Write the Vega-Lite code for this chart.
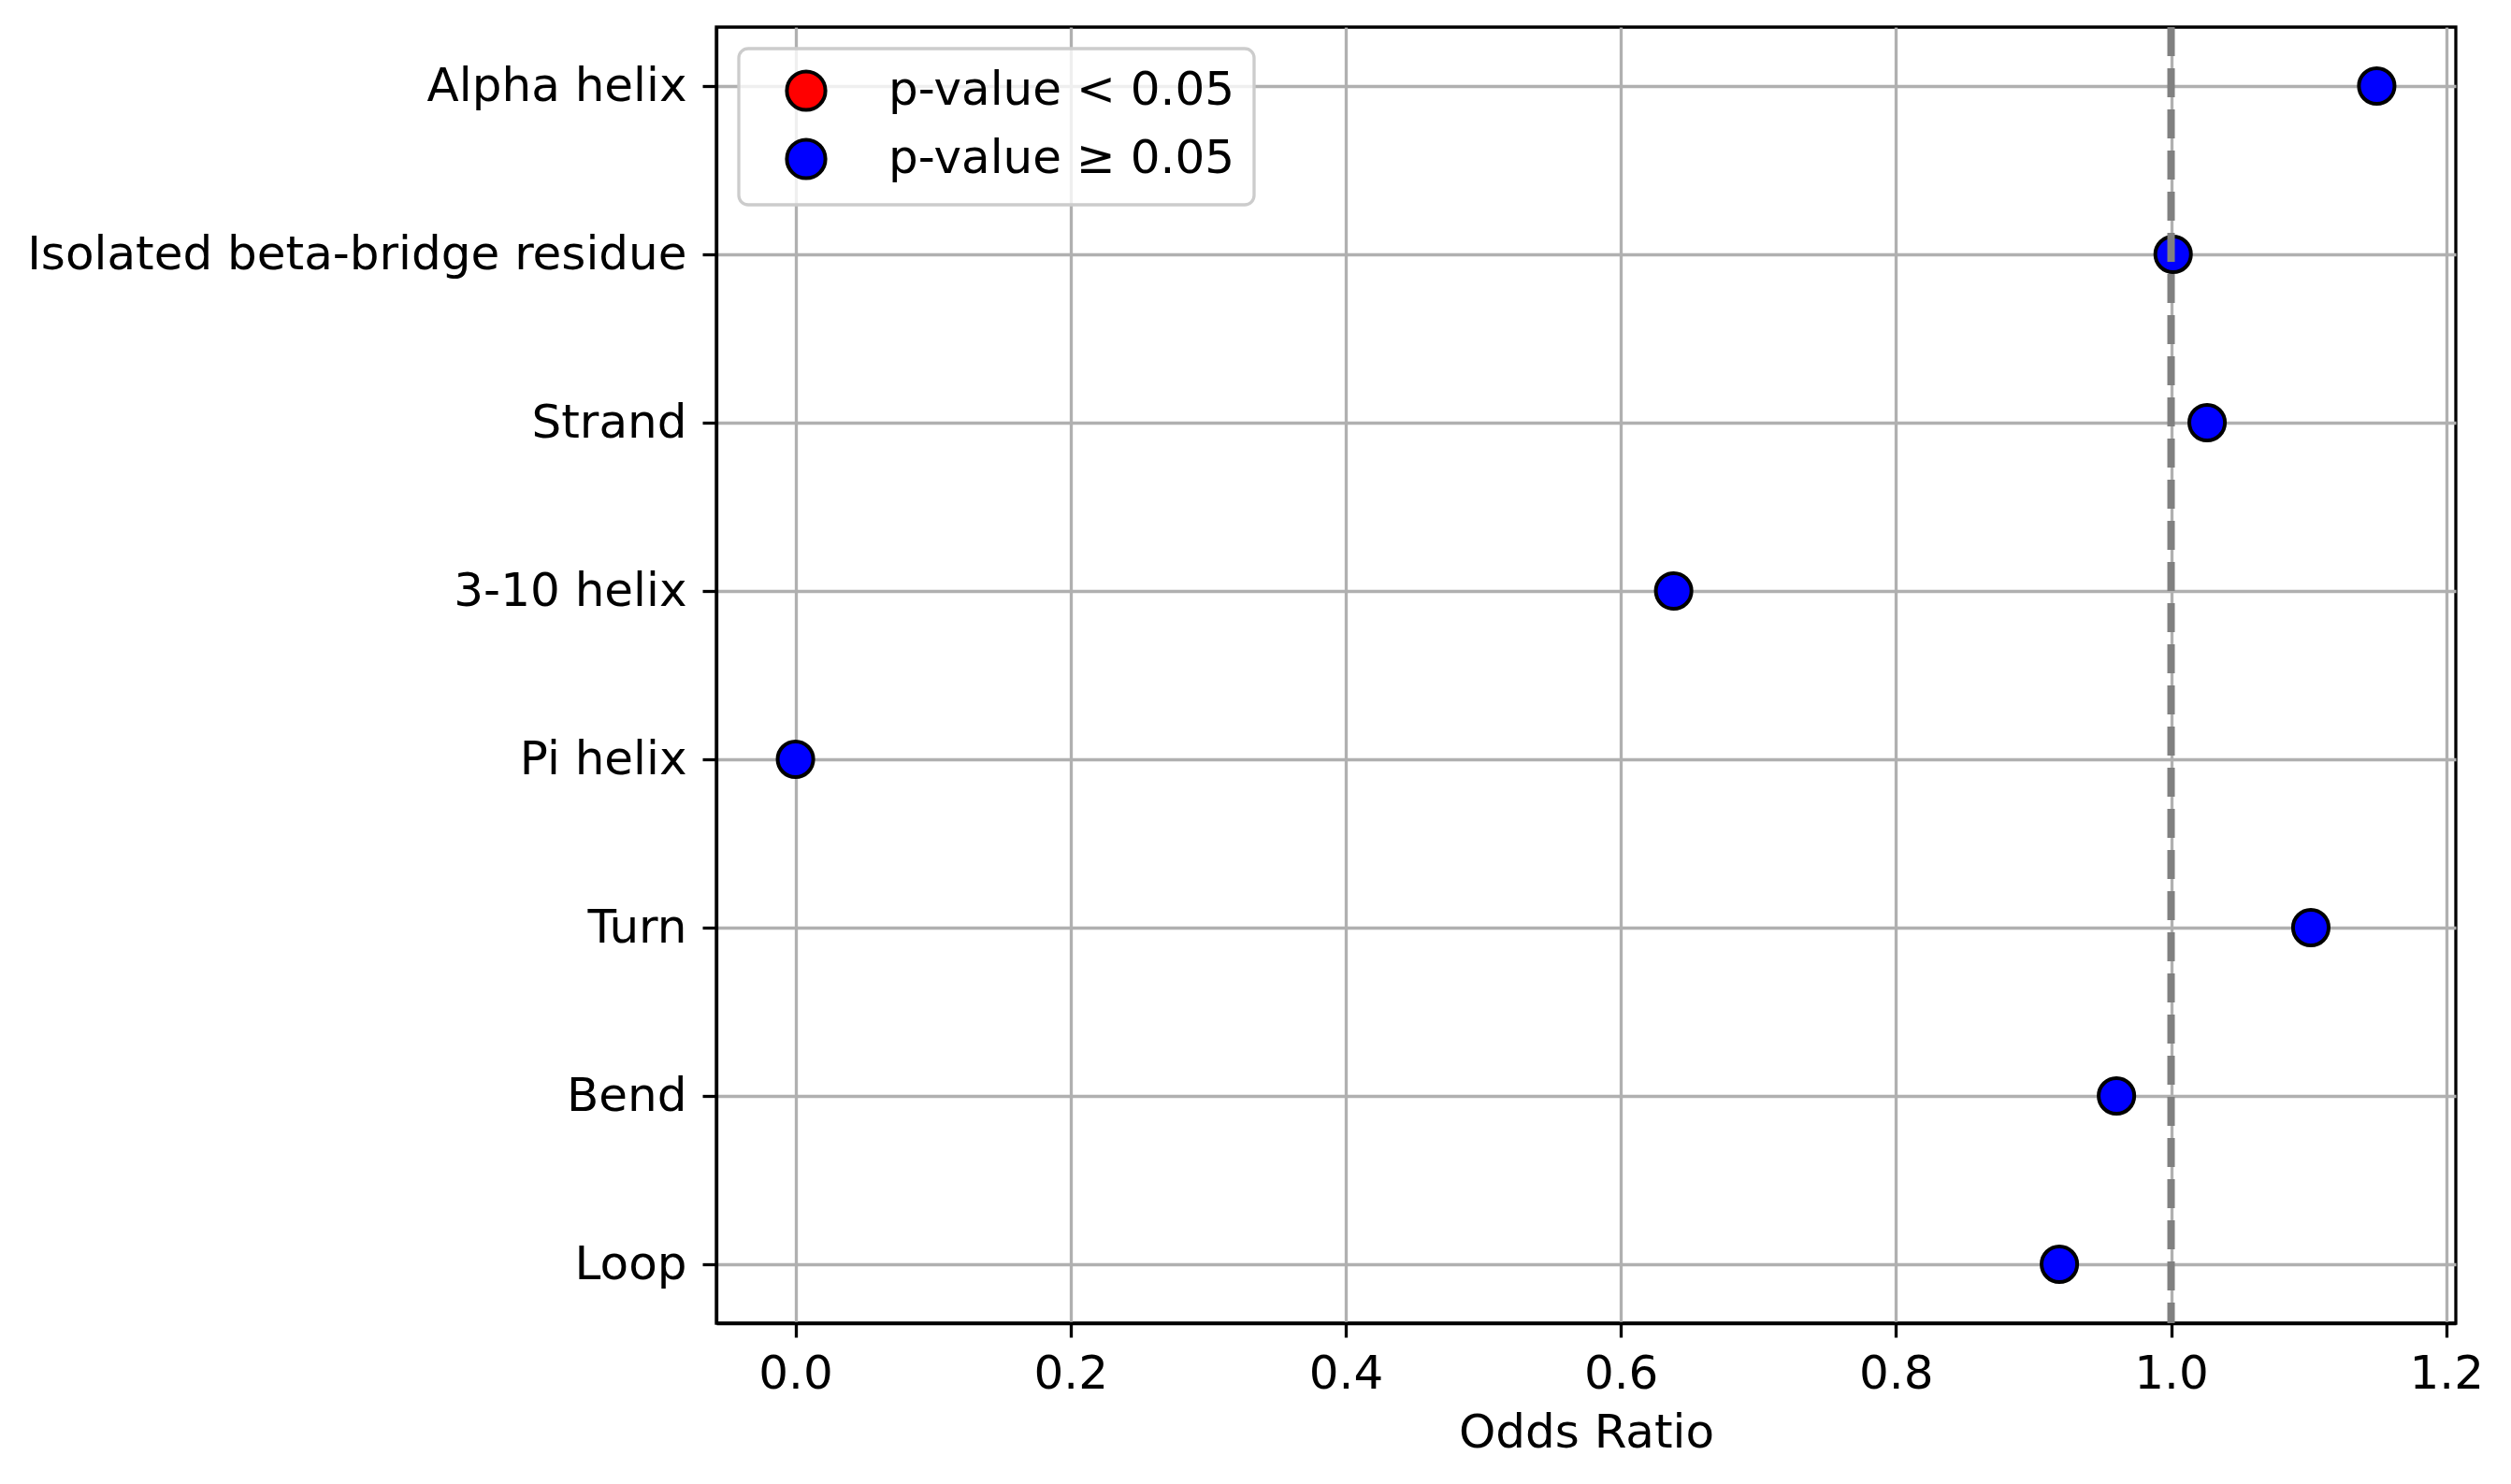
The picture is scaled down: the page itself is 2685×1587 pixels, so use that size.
{
  "$schema": "https://vega.github.io/schema/vega-lite/v6.json",
  "width": 1860,
  "height": 1386,
  "autosize": {"type": "none"},
  "padding": {"left": 766, "top": 29, "right": 59, "bottom": 172},
  "background": "white",
  "config": {
    "font": "DejaVu Sans",
    "view": {"stroke": "black", "strokeWidth": 3.3},
    "axis": {
      "labelFont": "DejaVu Sans",
      "titleFont": "DejaVu Sans",
      "labelFontSize": 50,
      "titleFontSize": 50,
      "labelColor": "black",
      "titleColor": "black",
      "titleFontWeight": "normal",
      "domainColor": "black",
      "domainWidth": 3.3,
      "tickColor": "black",
      "tickWidth": 3.3,
      "tickSize": 15,
      "gridColor": "#b0b0b0",
      "gridWidth": 3.3,
      "gridOpacity": 1,
      "zindex": 1
    }
  },
  "layer": [
    {
      "data": {
        "values": [
          {"category": "Alpha helix", "odds_ratio": 1.1495, "significance": "p-value ≥ 0.05"},
          {"category": "Isolated beta-bridge residue", "odds_ratio": 1.0015, "significance": "p-value ≥ 0.05"},
          {"category": "Strand", "odds_ratio": 1.0262, "significance": "p-value ≥ 0.05"},
          {"category": "3-10 helix", "odds_ratio": 0.6384, "significance": "p-value ≥ 0.05"},
          {"category": "Pi helix", "odds_ratio": 0.0, "significance": "p-value ≥ 0.05"},
          {"category": "Turn", "odds_ratio": 1.1016, "significance": "p-value ≥ 0.05"},
          {"category": "Bend", "odds_ratio": 0.9603, "significance": "p-value ≥ 0.05"},
          {"category": "Loop", "odds_ratio": 0.9188, "significance": "p-value ≥ 0.05"}
        ]
      },
      "mark": {"type": "point", "shape": "circle", "filled": true, "size": 1450, "stroke": "black", "strokeWidth": 4, "opacity": 1},
      "encoding": {
        "x": {
          "field": "odds_ratio",
          "type": "quantitative",
          "scale": {"domain": [-0.0575, 1.207], "nice": false, "zero": false},
          "axis": {"title": "Odds Ratio", "values": [0, 0.2, 0.4, 0.6, 0.8, 1.0, 1.2], "format": ".1f", "grid": true, "labelPadding": 14, "titlePadding": 13}
        },
        "y": {
          "field": "category",
          "type": "nominal",
          "sort": ["Alpha helix", "Isolated beta-bridge residue", "Strand", "3-10 helix", "Pi helix", "Turn", "Bend", "Loop"],
          "scale": {"type": "point", "padding": 0.35},
          "axis": {"title": null, "grid": true, "labelPadding": 17, "labelLimit": 2000}
        },
        "fill": {
          "field": "significance",
          "type": "nominal",
          "scale": {"domain": ["p-value < 0.05", "p-value ≥ 0.05"], "range": ["red", "blue"]},
          "legend": {
            "title": null,
            "orient": "none",
            "legendX": 24,
            "legendY": 23,
            "padding": 20,
            "symbolType": "circle",
            "symbolSize": 1700,
            "symbolStrokeColor": "black",
            "symbolStrokeWidth": 4,
            "symbolOpacity": 1,
            "symbolOffset": 27,
            "labelOffset": 63,
            "labelFontSize": 50,
            "labelFont": "DejaVu Sans",
            "labelColor": "black",
            "labelLimit": 2000,
            "rowPadding": 15,
            "fillColor": "rgba(255,255,255,0.8)",
            "strokeColor": "#cccccc",
            "cornerRadius": 10,
            "zindex": 3,
            "encode": {
              "legend": {"update": {"strokeWidth": {"value": 3.3}}},
              "symbols": {"update": {"size": {"value": 1700}, "strokeWidth": {"value": 4}, "stroke": {"value": "black"}}}
            }
          }
        }
      }
    },
    {
      "data": {"values": [{"ref": 1.0}]},
      "mark": {"type": "rule", "color": "#808080", "strokeWidth": 8, "strokeDash": [31, 13], "zindex": 2},
      "encoding": {
        "x": {"field": "ref", "type": "quantitative"}
      }
    }
  ]
}
